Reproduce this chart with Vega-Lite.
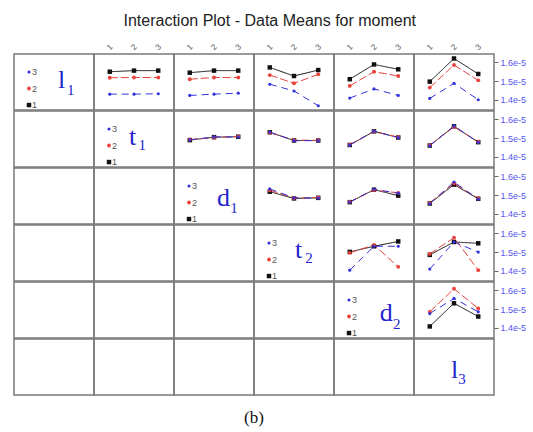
{
"$schema":"https://vega.github.io/schema/vega-lite/v6.json",
"title":{"text":"Interaction Plot - Data Means for moment","fontSize":16,"fontWeight":"normal","font":"Liberation Sans","color":"#222222","offset":13,"anchor":"middle"},
"padding":{"left":13,"top":12,"right":0,"bottom":0},
"autosize":{"type":"pad"},
"spacing":-2,
"config":{"view":{"stroke":"#7a7a7a","strokeWidth":1.5},"concat":{"spacing":0},"text":{"font":"Liberation Sans"}},
"datasets":{"m":[
{"p":"12","x":1,"g":1,"v":1.550e-5},{"p":"12","x":2,"g":1,"v":1.556e-5},{"p":"12","x":3,"g":1,"v":1.556e-5},
{"p":"12","x":1,"g":2,"v":1.518e-5},{"p":"12","x":2,"g":2,"v":1.519e-5},{"p":"12","x":3,"g":2,"v":1.519e-5},
{"p":"12","x":1,"g":3,"v":1.430e-5},{"p":"12","x":2,"g":3,"v":1.430e-5},{"p":"12","x":3,"g":3,"v":1.432e-5},
{"p":"13","x":1,"g":1,"v":1.545e-5},{"p":"13","x":2,"g":1,"v":1.556e-5},{"p":"13","x":3,"g":1,"v":1.556e-5},
{"p":"13","x":1,"g":2,"v":1.510e-5},{"p":"13","x":2,"g":2,"v":1.519e-5},{"p":"13","x":3,"g":2,"v":1.519e-5},
{"p":"13","x":1,"g":3,"v":1.423e-5},{"p":"13","x":2,"g":3,"v":1.430e-5},{"p":"13","x":3,"g":3,"v":1.435e-5},
{"p":"14","x":1,"g":1,"v":1.573e-5},{"p":"14","x":2,"g":1,"v":1.527e-5},{"p":"14","x":3,"g":1,"v":1.559e-5},
{"p":"14","x":1,"g":2,"v":1.532e-5},{"p":"14","x":2,"g":2,"v":1.488e-5},{"p":"14","x":3,"g":2,"v":1.536e-5},
{"p":"14","x":1,"g":3,"v":1.483e-5},{"p":"14","x":2,"g":3,"v":1.447e-5},{"p":"14","x":3,"g":3,"v":1.368e-5},
{"p":"15","x":1,"g":1,"v":1.510e-5},{"p":"15","x":2,"g":1,"v":1.589e-5},{"p":"15","x":3,"g":1,"v":1.563e-5},
{"p":"15","x":1,"g":2,"v":1.474e-5},{"p":"15","x":2,"g":2,"v":1.550e-5},{"p":"15","x":3,"g":2,"v":1.527e-5},
{"p":"15","x":1,"g":3,"v":1.409e-5},{"p":"15","x":2,"g":3,"v":1.458e-5},{"p":"15","x":3,"g":3,"v":1.423e-5},
{"p":"16","x":1,"g":1,"v":1.497e-5},{"p":"16","x":2,"g":1,"v":1.621e-5},{"p":"16","x":3,"g":1,"v":1.538e-5},
{"p":"16","x":1,"g":2,"v":1.465e-5},{"p":"16","x":2,"g":2,"v":1.586e-5},{"p":"16","x":3,"g":2,"v":1.504e-5},
{"p":"16","x":1,"g":3,"v":1.407e-5},{"p":"16","x":2,"g":3,"v":1.488e-5},{"p":"16","x":3,"g":3,"v":1.400e-5},
{"p":"23","x":1,"g":1,"v":1.489e-5},{"p":"23","x":2,"g":1,"v":1.505e-5},{"p":"23","x":3,"g":1,"v":1.507e-5},
{"p":"23","x":1,"g":2,"v":1.492e-5},{"p":"23","x":2,"g":2,"v":1.503e-5},{"p":"23","x":3,"g":2,"v":1.509e-5},
{"p":"23","x":1,"g":3,"v":1.490e-5},{"p":"23","x":2,"g":3,"v":1.506e-5},{"p":"23","x":3,"g":3,"v":1.506e-5},
{"p":"24","x":1,"g":1,"v":1.531e-5},{"p":"24","x":2,"g":1,"v":1.487e-5},{"p":"24","x":3,"g":1,"v":1.487e-5},
{"p":"24","x":1,"g":2,"v":1.529e-5},{"p":"24","x":2,"g":2,"v":1.489e-5},{"p":"24","x":3,"g":2,"v":1.488e-5},
{"p":"24","x":1,"g":3,"v":1.532e-5},{"p":"24","x":2,"g":3,"v":1.486e-5},{"p":"24","x":3,"g":3,"v":1.486e-5},
{"p":"25","x":1,"g":1,"v":1.463e-5},{"p":"25","x":2,"g":1,"v":1.536e-5},{"p":"25","x":3,"g":1,"v":1.503e-5},
{"p":"25","x":1,"g":2,"v":1.465e-5},{"p":"25","x":2,"g":2,"v":1.535e-5},{"p":"25","x":3,"g":2,"v":1.505e-5},
{"p":"25","x":1,"g":3,"v":1.462e-5},{"p":"25","x":2,"g":3,"v":1.537e-5},{"p":"25","x":3,"g":3,"v":1.502e-5},
{"p":"26","x":1,"g":1,"v":1.460e-5},{"p":"26","x":2,"g":1,"v":1.563e-5},{"p":"26","x":3,"g":1,"v":1.478e-5},
{"p":"26","x":1,"g":2,"v":1.462e-5},{"p":"26","x":2,"g":2,"v":1.560e-5},{"p":"26","x":3,"g":2,"v":1.480e-5},
{"p":"26","x":1,"g":3,"v":1.459e-5},{"p":"26","x":2,"g":3,"v":1.565e-5},{"p":"26","x":3,"g":3,"v":1.477e-5},
{"p":"34","x":1,"g":1,"v":1.518e-5},{"p":"34","x":2,"g":1,"v":1.482e-5},{"p":"34","x":3,"g":1,"v":1.485e-5},
{"p":"34","x":1,"g":2,"v":1.526e-5},{"p":"34","x":2,"g":2,"v":1.484e-5},{"p":"34","x":3,"g":2,"v":1.487e-5},
{"p":"34","x":1,"g":3,"v":1.533e-5},{"p":"34","x":2,"g":3,"v":1.485e-5},{"p":"34","x":3,"g":3,"v":1.484e-5},
{"p":"35","x":1,"g":1,"v":1.462e-5},{"p":"35","x":2,"g":1,"v":1.529e-5},{"p":"35","x":3,"g":1,"v":1.497e-5},
{"p":"35","x":1,"g":2,"v":1.464e-5},{"p":"35","x":2,"g":2,"v":1.527e-5},{"p":"35","x":3,"g":2,"v":1.512e-5},
{"p":"35","x":1,"g":3,"v":1.463e-5},{"p":"35","x":2,"g":3,"v":1.531e-5},{"p":"35","x":3,"g":3,"v":1.510e-5},
{"p":"36","x":1,"g":1,"v":1.455e-5},{"p":"36","x":2,"g":1,"v":1.556e-5},{"p":"36","x":3,"g":1,"v":1.480e-5},
{"p":"36","x":1,"g":2,"v":1.458e-5},{"p":"36","x":2,"g":2,"v":1.563e-5},{"p":"36","x":3,"g":2,"v":1.482e-5},
{"p":"36","x":1,"g":3,"v":1.454e-5},{"p":"36","x":2,"g":3,"v":1.570e-5},{"p":"36","x":3,"g":3,"v":1.478e-5},
{"p":"45","x":1,"g":1,"v":1.501e-5},{"p":"45","x":2,"g":1,"v":1.531e-5},{"p":"45","x":3,"g":1,"v":1.557e-5},
{"p":"45","x":1,"g":2,"v":1.496e-5},{"p":"45","x":2,"g":2,"v":1.538e-5},{"p":"45","x":3,"g":2,"v":1.421e-5},
{"p":"45","x":1,"g":3,"v":1.403e-5},{"p":"45","x":2,"g":3,"v":1.531e-5},{"p":"45","x":3,"g":3,"v":1.531e-5},
{"p":"46","x":1,"g":1,"v":1.485e-5},{"p":"46","x":2,"g":1,"v":1.554e-5},{"p":"46","x":3,"g":1,"v":1.547e-5},
{"p":"46","x":1,"g":2,"v":1.490e-5},{"p":"46","x":2,"g":2,"v":1.577e-5},{"p":"46","x":3,"g":2,"v":1.403e-5},
{"p":"46","x":1,"g":3,"v":1.409e-5},{"p":"46","x":2,"g":3,"v":1.554e-5},{"p":"46","x":3,"g":3,"v":1.500e-5},
{"p":"56","x":1,"g":1,"v":1.407e-5},{"p":"56","x":2,"g":1,"v":1.531e-5},{"p":"56","x":3,"g":1,"v":1.460e-5},
{"p":"56","x":1,"g":2,"v":1.485e-5},{"p":"56","x":2,"g":2,"v":1.609e-5},{"p":"56","x":3,"g":2,"v":1.503e-5},
{"p":"56","x":1,"g":3,"v":1.476e-5},{"p":"56","x":2,"g":3,"v":1.557e-5},{"p":"56","x":3,"g":3,"v":1.485e-5}
]},
"vconcat":[
{"spacing":0,"bounds":"flush","hconcat":[
 {"width":80,"height":56,"data":{"values":[{"g":3},{"g":2},{"g":1},{"s":"l","t":"1"}]},"encoding":{"x":{"datum":0.1875,"type":"quantitative","scale":{"domain":[0,1]},"axis":null}},"layer":[
  {"transform":[{"filter":"isValid(datum.g)"}],"mark":{"type":"point","filled":true,"opacity":1},"encoding":{"y":{"field":"g","type":"quantitative","scale":{"domain":[0.7,4.09],"zero":false,"nice":false},"axis":null},"color":{"field":"g","type":"nominal","scale":{"domain":[1,2,3],"range":["#111111","#e8423c","#3333dd"]},"legend":null},"shape":{"field":"g","type":"nominal","scale":{"domain":[1,2,3],"range":["square","circle","circle"]},"legend":null},"size":{"field":"g","type":"ordinal","scale":{"domain":[1,2,3],"range":[20,10,10]},"legend":null}}},
  {"transform":[{"filter":"isValid(datum.g)"}],"mark":{"type":"text","align":"left","baseline":"middle","dx":3,"fontSize":9,"color":"#555555"},"encoding":{"y":{"field":"g","type":"quantitative"},"text":{"field":"g"}}},
  {"transform":[{"filter":"isValid(datum.s)"}],"mark":{"type":"text","font":"Liberation Serif","fontSize":26,"color":"#2424cc","align":"left","baseline":"alphabetic"},"encoding":{"text":{"field":"s"},"x":{"datum":0.55,"type":"quantitative"},"y":{"datum":2.032,"type":"quantitative"}}},
  {"transform":[{"filter":"isValid(datum.s)"}],"mark":{"type":"text","font":"Liberation Serif","fontSize":15,"color":"#2424cc","align":"left","baseline":"alphabetic"},"encoding":{"text":{"field":"t"},"x":{"datum":0.6625,"type":"quantitative"},"y":{"datum":1.608,"type":"quantitative"}}}]},
 {"width":80,"height":56,"data":{"name":"m"},"transform":[{"filter":"datum.p=='12'"}],"encoding":{"x":{"field":"x","type":"quantitative","scale":{"domain":[0.35,3.65]},"axis":{"orient":"top","values":[1,2,3],"format":"d","labelAngle":-45,"labelAlign":"center","labelBaseline":"middle","ticks":false,"domain":false,"grid":false,"labelColor":"#555555","labelFontSize":8,"labelPadding":7,"title":null}},"y":{"field":"v","type":"quantitative","scale":{"domain":[1.345e-5,1.645e-5],"zero":false,"nice":false},"axis":null},"color":{"field":"g","type":"nominal","scale":{"domain":[1,2,3],"range":["#111111","#e8423c","#3333dd"]},"legend":null}},"layer":[{"mark":{"type":"line","strokeWidth":1},"encoding":{"strokeDash":{"field":"g","type":"nominal","scale":{"domain":[1,2,3],"range":[[1,0],[8,3],[7,5]]},"legend":null}}},{"mark":{"type":"point","filled":true,"opacity":1},"encoding":{"shape":{"field":"g","type":"nominal","scale":{"domain":[1,2,3],"range":["square","circle","circle"]},"legend":null},"size":{"field":"g","type":"ordinal","scale":{"domain":[1,2,3],"range":[20,10,10]},"legend":null}}}]},
 {"width":80,"height":56,"data":{"name":"m"},"transform":[{"filter":"datum.p=='13'"}],"encoding":{"x":{"field":"x","type":"quantitative","scale":{"domain":[0.35,3.65]},"axis":{"orient":"top","values":[1,2,3],"format":"d","labelAngle":-45,"labelAlign":"center","labelBaseline":"middle","ticks":false,"domain":false,"grid":false,"labelColor":"#555555","labelFontSize":8,"labelPadding":7,"title":null}},"y":{"field":"v","type":"quantitative","scale":{"domain":[1.345e-5,1.645e-5],"zero":false,"nice":false},"axis":null},"color":{"field":"g","type":"nominal","scale":{"domain":[1,2,3],"range":["#111111","#e8423c","#3333dd"]},"legend":null}},"layer":[{"mark":{"type":"line","strokeWidth":1},"encoding":{"strokeDash":{"field":"g","type":"nominal","scale":{"domain":[1,2,3],"range":[[1,0],[8,3],[7,5]]},"legend":null}}},{"mark":{"type":"point","filled":true,"opacity":1},"encoding":{"shape":{"field":"g","type":"nominal","scale":{"domain":[1,2,3],"range":["square","circle","circle"]},"legend":null},"size":{"field":"g","type":"ordinal","scale":{"domain":[1,2,3],"range":[20,10,10]},"legend":null}}}]},
 {"width":80,"height":56,"data":{"name":"m"},"transform":[{"filter":"datum.p=='14'"}],"encoding":{"x":{"field":"x","type":"quantitative","scale":{"domain":[0.35,3.65]},"axis":{"orient":"top","values":[1,2,3],"format":"d","labelAngle":-45,"labelAlign":"center","labelBaseline":"middle","ticks":false,"domain":false,"grid":false,"labelColor":"#555555","labelFontSize":8,"labelPadding":7,"title":null}},"y":{"field":"v","type":"quantitative","scale":{"domain":[1.345e-5,1.645e-5],"zero":false,"nice":false},"axis":null},"color":{"field":"g","type":"nominal","scale":{"domain":[1,2,3],"range":["#111111","#e8423c","#3333dd"]},"legend":null}},"layer":[{"mark":{"type":"line","strokeWidth":1},"encoding":{"strokeDash":{"field":"g","type":"nominal","scale":{"domain":[1,2,3],"range":[[1,0],[8,3],[7,5]]},"legend":null}}},{"mark":{"type":"point","filled":true,"opacity":1},"encoding":{"shape":{"field":"g","type":"nominal","scale":{"domain":[1,2,3],"range":["square","circle","circle"]},"legend":null},"size":{"field":"g","type":"ordinal","scale":{"domain":[1,2,3],"range":[20,10,10]},"legend":null}}}]},
 {"width":80,"height":56,"data":{"name":"m"},"transform":[{"filter":"datum.p=='15'"}],"encoding":{"x":{"field":"x","type":"quantitative","scale":{"domain":[0.35,3.65]},"axis":{"orient":"top","values":[1,2,3],"format":"d","labelAngle":-45,"labelAlign":"center","labelBaseline":"middle","ticks":false,"domain":false,"grid":false,"labelColor":"#555555","labelFontSize":8,"labelPadding":7,"title":null}},"y":{"field":"v","type":"quantitative","scale":{"domain":[1.345e-5,1.645e-5],"zero":false,"nice":false},"axis":null},"color":{"field":"g","type":"nominal","scale":{"domain":[1,2,3],"range":["#111111","#e8423c","#3333dd"]},"legend":null}},"layer":[{"mark":{"type":"line","strokeWidth":1},"encoding":{"strokeDash":{"field":"g","type":"nominal","scale":{"domain":[1,2,3],"range":[[1,0],[8,3],[7,5]]},"legend":null}}},{"mark":{"type":"point","filled":true,"opacity":1},"encoding":{"shape":{"field":"g","type":"nominal","scale":{"domain":[1,2,3],"range":["square","circle","circle"]},"legend":null},"size":{"field":"g","type":"ordinal","scale":{"domain":[1,2,3],"range":[20,10,10]},"legend":null}}}]},
 {"width":80,"height":56,"data":{"name":"m"},"transform":[{"filter":"datum.p=='16'"}],"encoding":{"x":{"field":"x","type":"quantitative","scale":{"domain":[0.35,3.65]},"axis":{"orient":"top","values":[1,2,3],"format":"d","labelAngle":-45,"labelAlign":"center","labelBaseline":"middle","ticks":false,"domain":false,"grid":false,"labelColor":"#555555","labelFontSize":8,"labelPadding":7,"title":null}},"y":{"field":"v","type":"quantitative","scale":{"domain":[1.345e-5,1.645e-5],"zero":false,"nice":false},"axis":{"orient":"right","values":[1.4e-5,1.5e-5,1.6e-5],"format":".1e","domain":false,"grid":false,"tickColor":"#666666","tickSize":4,"labelColor":"#5555ee","labelFont":"Liberation Sans","labelFontSize":9,"labelPadding":2,"title":null}},"color":{"field":"g","type":"nominal","scale":{"domain":[1,2,3],"range":["#111111","#e8423c","#3333dd"]},"legend":null}},"layer":[{"mark":{"type":"line","strokeWidth":1},"encoding":{"strokeDash":{"field":"g","type":"nominal","scale":{"domain":[1,2,3],"range":[[1,0],[8,3],[7,5]]},"legend":null}}},{"mark":{"type":"point","filled":true,"opacity":1},"encoding":{"shape":{"field":"g","type":"nominal","scale":{"domain":[1,2,3],"range":["square","circle","circle"]},"legend":null},"size":{"field":"g","type":"ordinal","scale":{"domain":[1,2,3],"range":[20,10,10]},"legend":null}}}]}
]},
{"spacing":0,"bounds":"flush","hconcat":[
 {"width":80,"height":56,"data":{"values":[{}]},"mark":{"type":"text"},"encoding":{"text":{"value":""},"x":{"datum":0.5,"type":"quantitative","scale":{"domain":[0,1]},"axis":null},"y":{"datum":0.5,"type":"quantitative","scale":{"domain":[0,1]},"axis":null}}},
 {"width":80,"height":56,"data":{"values":[{"g":3},{"g":2},{"g":1},{"s":"t","t":"1"}]},"encoding":{"x":{"datum":0.1875,"type":"quantitative","scale":{"domain":[0,1]},"axis":null}},"layer":[
  {"transform":[{"filter":"isValid(datum.g)"}],"mark":{"type":"point","filled":true,"opacity":1},"encoding":{"y":{"field":"g","type":"quantitative","scale":{"domain":[0.7,4.09],"zero":false,"nice":false},"axis":null},"color":{"field":"g","type":"nominal","scale":{"domain":[1,2,3],"range":["#111111","#e8423c","#3333dd"]},"legend":null},"shape":{"field":"g","type":"nominal","scale":{"domain":[1,2,3],"range":["square","circle","circle"]},"legend":null},"size":{"field":"g","type":"ordinal","scale":{"domain":[1,2,3],"range":[20,10,10]},"legend":null}}},
  {"transform":[{"filter":"isValid(datum.g)"}],"mark":{"type":"text","align":"left","baseline":"middle","dx":3,"fontSize":9,"color":"#555555"},"encoding":{"y":{"field":"g","type":"quantitative"},"text":{"field":"g"}}},
  {"transform":[{"filter":"isValid(datum.s)"}],"mark":{"type":"text","font":"Liberation Serif","fontSize":26,"color":"#2424cc","align":"left","baseline":"alphabetic"},"encoding":{"text":{"field":"s"},"x":{"datum":0.4375,"type":"quantitative"},"y":{"datum":2.049,"type":"quantitative"}}},
  {"transform":[{"filter":"isValid(datum.s)"}],"mark":{"type":"text","font":"Liberation Serif","fontSize":15,"color":"#2424cc","align":"left","baseline":"alphabetic"},"encoding":{"text":{"field":"t"},"x":{"datum":0.555,"type":"quantitative"},"y":{"datum":1.705,"type":"quantitative"}}}]},
 {"width":80,"height":56,"data":{"name":"m"},"transform":[{"filter":"datum.p=='23'"}],"encoding":{"x":{"field":"x","type":"quantitative","scale":{"domain":[0.35,3.65]},"axis":null},"y":{"field":"v","type":"quantitative","scale":{"domain":[1.345e-5,1.645e-5],"zero":false,"nice":false},"axis":null},"color":{"field":"g","type":"nominal","scale":{"domain":[1,2,3],"range":["#111111","#e8423c","#3333dd"]},"legend":null}},"layer":[{"mark":{"type":"line","strokeWidth":1},"encoding":{"strokeDash":{"field":"g","type":"nominal","scale":{"domain":[1,2,3],"range":[[1,0],[8,3],[7,5]]},"legend":null}}},{"mark":{"type":"point","filled":true,"opacity":1},"encoding":{"shape":{"field":"g","type":"nominal","scale":{"domain":[1,2,3],"range":["square","circle","circle"]},"legend":null},"size":{"field":"g","type":"ordinal","scale":{"domain":[1,2,3],"range":[20,10,10]},"legend":null}}}]},
 {"width":80,"height":56,"data":{"name":"m"},"transform":[{"filter":"datum.p=='24'"}],"encoding":{"x":{"field":"x","type":"quantitative","scale":{"domain":[0.35,3.65]},"axis":null},"y":{"field":"v","type":"quantitative","scale":{"domain":[1.345e-5,1.645e-5],"zero":false,"nice":false},"axis":null},"color":{"field":"g","type":"nominal","scale":{"domain":[1,2,3],"range":["#111111","#e8423c","#3333dd"]},"legend":null}},"layer":[{"mark":{"type":"line","strokeWidth":1},"encoding":{"strokeDash":{"field":"g","type":"nominal","scale":{"domain":[1,2,3],"range":[[1,0],[8,3],[7,5]]},"legend":null}}},{"mark":{"type":"point","filled":true,"opacity":1},"encoding":{"shape":{"field":"g","type":"nominal","scale":{"domain":[1,2,3],"range":["square","circle","circle"]},"legend":null},"size":{"field":"g","type":"ordinal","scale":{"domain":[1,2,3],"range":[20,10,10]},"legend":null}}}]},
 {"width":80,"height":56,"data":{"name":"m"},"transform":[{"filter":"datum.p=='25'"}],"encoding":{"x":{"field":"x","type":"quantitative","scale":{"domain":[0.35,3.65]},"axis":null},"y":{"field":"v","type":"quantitative","scale":{"domain":[1.345e-5,1.645e-5],"zero":false,"nice":false},"axis":null},"color":{"field":"g","type":"nominal","scale":{"domain":[1,2,3],"range":["#111111","#e8423c","#3333dd"]},"legend":null}},"layer":[{"mark":{"type":"line","strokeWidth":1},"encoding":{"strokeDash":{"field":"g","type":"nominal","scale":{"domain":[1,2,3],"range":[[1,0],[8,3],[7,5]]},"legend":null}}},{"mark":{"type":"point","filled":true,"opacity":1},"encoding":{"shape":{"field":"g","type":"nominal","scale":{"domain":[1,2,3],"range":["square","circle","circle"]},"legend":null},"size":{"field":"g","type":"ordinal","scale":{"domain":[1,2,3],"range":[20,10,10]},"legend":null}}}]},
 {"width":80,"height":56,"data":{"name":"m"},"transform":[{"filter":"datum.p=='26'"}],"encoding":{"x":{"field":"x","type":"quantitative","scale":{"domain":[0.35,3.65]},"axis":null},"y":{"field":"v","type":"quantitative","scale":{"domain":[1.345e-5,1.645e-5],"zero":false,"nice":false},"axis":{"orient":"right","values":[1.4e-5,1.5e-5,1.6e-5],"format":".1e","domain":false,"grid":false,"tickColor":"#666666","tickSize":4,"labelColor":"#5555ee","labelFont":"Liberation Sans","labelFontSize":9,"labelPadding":2,"title":null}},"color":{"field":"g","type":"nominal","scale":{"domain":[1,2,3],"range":["#111111","#e8423c","#3333dd"]},"legend":null}},"layer":[{"mark":{"type":"line","strokeWidth":1},"encoding":{"strokeDash":{"field":"g","type":"nominal","scale":{"domain":[1,2,3],"range":[[1,0],[8,3],[7,5]]},"legend":null}}},{"mark":{"type":"point","filled":true,"opacity":1},"encoding":{"shape":{"field":"g","type":"nominal","scale":{"domain":[1,2,3],"range":["square","circle","circle"]},"legend":null},"size":{"field":"g","type":"ordinal","scale":{"domain":[1,2,3],"range":[20,10,10]},"legend":null}}}]}
]},
{"spacing":0,"bounds":"flush","hconcat":[
 {"width":80,"height":56,"data":{"values":[{}]},"mark":{"type":"text"},"encoding":{"text":{"value":""},"x":{"datum":0.5,"type":"quantitative","scale":{"domain":[0,1]},"axis":null},"y":{"datum":0.5,"type":"quantitative","scale":{"domain":[0,1]},"axis":null}}},
 {"width":80,"height":56,"data":{"values":[{}]},"mark":{"type":"text"},"encoding":{"text":{"value":""},"x":{"datum":0.5,"type":"quantitative","scale":{"domain":[0,1]},"axis":null},"y":{"datum":0.5,"type":"quantitative","scale":{"domain":[0,1]},"axis":null}}},
 {"width":80,"height":56,"data":{"values":[{"g":3},{"g":2},{"g":1},{"s":"d","t":"1"}]},"encoding":{"x":{"datum":0.1875,"type":"quantitative","scale":{"domain":[0,1]},"axis":null}},"layer":[
  {"transform":[{"filter":"isValid(datum.g)"}],"mark":{"type":"point","filled":true,"opacity":1},"encoding":{"y":{"field":"g","type":"quantitative","scale":{"domain":[0.7,4.09],"zero":false,"nice":false},"axis":null},"color":{"field":"g","type":"nominal","scale":{"domain":[1,2,3],"range":["#111111","#e8423c","#3333dd"]},"legend":null},"shape":{"field":"g","type":"nominal","scale":{"domain":[1,2,3],"range":["square","circle","circle"]},"legend":null},"size":{"field":"g","type":"ordinal","scale":{"domain":[1,2,3],"range":[20,10,10]},"legend":null}}},
  {"transform":[{"filter":"isValid(datum.g)"}],"mark":{"type":"text","align":"left","baseline":"middle","dx":3,"fontSize":9,"color":"#555555"},"encoding":{"y":{"field":"g","type":"quantitative"},"text":{"field":"g"}}},
  {"transform":[{"filter":"isValid(datum.s)"}],"mark":{"type":"text","font":"Liberation Serif","fontSize":26,"color":"#2424cc","align":"left","baseline":"alphabetic"},"encoding":{"text":{"field":"s"},"x":{"datum":0.5375,"type":"quantitative"},"y":{"datum":1.79,"type":"quantitative"}}},
  {"transform":[{"filter":"isValid(datum.s)"}],"mark":{"type":"text","font":"Liberation Serif","fontSize":15,"color":"#2424cc","align":"left","baseline":"alphabetic"},"encoding":{"text":{"field":"t"},"x":{"datum":0.704,"type":"quantitative"},"y":{"datum":1.39,"type":"quantitative"}}}]},
 {"width":80,"height":56,"data":{"name":"m"},"transform":[{"filter":"datum.p=='34'"}],"encoding":{"x":{"field":"x","type":"quantitative","scale":{"domain":[0.35,3.65]},"axis":null},"y":{"field":"v","type":"quantitative","scale":{"domain":[1.345e-5,1.645e-5],"zero":false,"nice":false},"axis":null},"color":{"field":"g","type":"nominal","scale":{"domain":[1,2,3],"range":["#111111","#e8423c","#3333dd"]},"legend":null}},"layer":[{"mark":{"type":"line","strokeWidth":1},"encoding":{"strokeDash":{"field":"g","type":"nominal","scale":{"domain":[1,2,3],"range":[[1,0],[8,3],[7,5]]},"legend":null}}},{"mark":{"type":"point","filled":true,"opacity":1},"encoding":{"shape":{"field":"g","type":"nominal","scale":{"domain":[1,2,3],"range":["square","circle","circle"]},"legend":null},"size":{"field":"g","type":"ordinal","scale":{"domain":[1,2,3],"range":[20,10,10]},"legend":null}}}]},
 {"width":80,"height":56,"data":{"name":"m"},"transform":[{"filter":"datum.p=='35'"}],"encoding":{"x":{"field":"x","type":"quantitative","scale":{"domain":[0.35,3.65]},"axis":null},"y":{"field":"v","type":"quantitative","scale":{"domain":[1.345e-5,1.645e-5],"zero":false,"nice":false},"axis":null},"color":{"field":"g","type":"nominal","scale":{"domain":[1,2,3],"range":["#111111","#e8423c","#3333dd"]},"legend":null}},"layer":[{"mark":{"type":"line","strokeWidth":1},"encoding":{"strokeDash":{"field":"g","type":"nominal","scale":{"domain":[1,2,3],"range":[[1,0],[8,3],[7,5]]},"legend":null}}},{"mark":{"type":"point","filled":true,"opacity":1},"encoding":{"shape":{"field":"g","type":"nominal","scale":{"domain":[1,2,3],"range":["square","circle","circle"]},"legend":null},"size":{"field":"g","type":"ordinal","scale":{"domain":[1,2,3],"range":[20,10,10]},"legend":null}}}]},
 {"width":80,"height":56,"data":{"name":"m"},"transform":[{"filter":"datum.p=='36'"}],"encoding":{"x":{"field":"x","type":"quantitative","scale":{"domain":[0.35,3.65]},"axis":null},"y":{"field":"v","type":"quantitative","scale":{"domain":[1.345e-5,1.645e-5],"zero":false,"nice":false},"axis":{"orient":"right","values":[1.4e-5,1.5e-5,1.6e-5],"format":".1e","domain":false,"grid":false,"tickColor":"#666666","tickSize":4,"labelColor":"#5555ee","labelFont":"Liberation Sans","labelFontSize":9,"labelPadding":2,"title":null}},"color":{"field":"g","type":"nominal","scale":{"domain":[1,2,3],"range":["#111111","#e8423c","#3333dd"]},"legend":null}},"layer":[{"mark":{"type":"line","strokeWidth":1},"encoding":{"strokeDash":{"field":"g","type":"nominal","scale":{"domain":[1,2,3],"range":[[1,0],[8,3],[7,5]]},"legend":null}}},{"mark":{"type":"point","filled":true,"opacity":1},"encoding":{"shape":{"field":"g","type":"nominal","scale":{"domain":[1,2,3],"range":["square","circle","circle"]},"legend":null},"size":{"field":"g","type":"ordinal","scale":{"domain":[1,2,3],"range":[20,10,10]},"legend":null}}}]}
]},
{"spacing":0,"bounds":"flush","hconcat":[
 {"width":80,"height":56,"data":{"values":[{}]},"mark":{"type":"text"},"encoding":{"text":{"value":""},"x":{"datum":0.5,"type":"quantitative","scale":{"domain":[0,1]},"axis":null},"y":{"datum":0.5,"type":"quantitative","scale":{"domain":[0,1]},"axis":null}}},
 {"width":80,"height":56,"data":{"values":[{}]},"mark":{"type":"text"},"encoding":{"text":{"value":""},"x":{"datum":0.5,"type":"quantitative","scale":{"domain":[0,1]},"axis":null},"y":{"datum":0.5,"type":"quantitative","scale":{"domain":[0,1]},"axis":null}}},
 {"width":80,"height":56,"data":{"values":[{}]},"mark":{"type":"text"},"encoding":{"text":{"value":""},"x":{"datum":0.5,"type":"quantitative","scale":{"domain":[0,1]},"axis":null},"y":{"datum":0.5,"type":"quantitative","scale":{"domain":[0,1]},"axis":null}}},
 {"width":80,"height":56,"data":{"values":[{"g":3},{"g":2},{"g":1},{"s":"t","t":"2"}]},"encoding":{"x":{"datum":0.1875,"type":"quantitative","scale":{"domain":[0,1]},"axis":null}},"layer":[
  {"transform":[{"filter":"isValid(datum.g)"}],"mark":{"type":"point","filled":true,"opacity":1},"encoding":{"y":{"field":"g","type":"quantitative","scale":{"domain":[0.7,4.09],"zero":false,"nice":false},"axis":null},"color":{"field":"g","type":"nominal","scale":{"domain":[1,2,3],"range":["#111111","#e8423c","#3333dd"]},"legend":null},"shape":{"field":"g","type":"nominal","scale":{"domain":[1,2,3],"range":["square","circle","circle"]},"legend":null},"size":{"field":"g","type":"ordinal","scale":{"domain":[1,2,3],"range":[20,10,10]},"legend":null}}},
  {"transform":[{"filter":"isValid(datum.g)"}],"mark":{"type":"text","align":"left","baseline":"middle","dx":3,"fontSize":9,"color":"#555555"},"encoding":{"y":{"field":"g","type":"quantitative"},"text":{"field":"g"}}},
  {"transform":[{"filter":"isValid(datum.s)"}],"mark":{"type":"text","font":"Liberation Serif","fontSize":26,"color":"#2424cc","align":"left","baseline":"alphabetic"},"encoding":{"text":{"field":"s"},"x":{"datum":0.5125,"type":"quantitative"},"y":{"datum":2.092,"type":"quantitative"}}},
  {"transform":[{"filter":"isValid(datum.s)"}],"mark":{"type":"text","font":"Liberation Serif","fontSize":15,"color":"#2424cc","align":"left","baseline":"alphabetic"},"encoding":{"text":{"field":"t"},"x":{"datum":0.64,"type":"quantitative"},"y":{"datum":1.79,"type":"quantitative"}}}]},
 {"width":80,"height":56,"data":{"name":"m"},"transform":[{"filter":"datum.p=='45'"}],"encoding":{"x":{"field":"x","type":"quantitative","scale":{"domain":[0.35,3.65]},"axis":null},"y":{"field":"v","type":"quantitative","scale":{"domain":[1.345e-5,1.645e-5],"zero":false,"nice":false},"axis":null},"color":{"field":"g","type":"nominal","scale":{"domain":[1,2,3],"range":["#111111","#e8423c","#3333dd"]},"legend":null}},"layer":[{"mark":{"type":"line","strokeWidth":1},"encoding":{"strokeDash":{"field":"g","type":"nominal","scale":{"domain":[1,2,3],"range":[[1,0],[8,3],[7,5]]},"legend":null}}},{"mark":{"type":"point","filled":true,"opacity":1},"encoding":{"shape":{"field":"g","type":"nominal","scale":{"domain":[1,2,3],"range":["square","circle","circle"]},"legend":null},"size":{"field":"g","type":"ordinal","scale":{"domain":[1,2,3],"range":[20,10,10]},"legend":null}}}]},
 {"width":80,"height":56,"data":{"name":"m"},"transform":[{"filter":"datum.p=='46'"}],"encoding":{"x":{"field":"x","type":"quantitative","scale":{"domain":[0.35,3.65]},"axis":null},"y":{"field":"v","type":"quantitative","scale":{"domain":[1.345e-5,1.645e-5],"zero":false,"nice":false},"axis":{"orient":"right","values":[1.4e-5,1.5e-5,1.6e-5],"format":".1e","domain":false,"grid":false,"tickColor":"#666666","tickSize":4,"labelColor":"#5555ee","labelFont":"Liberation Sans","labelFontSize":9,"labelPadding":2,"title":null}},"color":{"field":"g","type":"nominal","scale":{"domain":[1,2,3],"range":["#111111","#e8423c","#3333dd"]},"legend":null}},"layer":[{"mark":{"type":"line","strokeWidth":1},"encoding":{"strokeDash":{"field":"g","type":"nominal","scale":{"domain":[1,2,3],"range":[[1,0],[8,3],[7,5]]},"legend":null}}},{"mark":{"type":"point","filled":true,"opacity":1},"encoding":{"shape":{"field":"g","type":"nominal","scale":{"domain":[1,2,3],"range":["square","circle","circle"]},"legend":null},"size":{"field":"g","type":"ordinal","scale":{"domain":[1,2,3],"range":[20,10,10]},"legend":null}}}]}
]},
{"spacing":0,"bounds":"flush","hconcat":[
 {"width":80,"height":56,"data":{"values":[{}]},"mark":{"type":"text"},"encoding":{"text":{"value":""},"x":{"datum":0.5,"type":"quantitative","scale":{"domain":[0,1]},"axis":null},"y":{"datum":0.5,"type":"quantitative","scale":{"domain":[0,1]},"axis":null}}},
 {"width":80,"height":56,"data":{"values":[{}]},"mark":{"type":"text"},"encoding":{"text":{"value":""},"x":{"datum":0.5,"type":"quantitative","scale":{"domain":[0,1]},"axis":null},"y":{"datum":0.5,"type":"quantitative","scale":{"domain":[0,1]},"axis":null}}},
 {"width":80,"height":56,"data":{"values":[{}]},"mark":{"type":"text"},"encoding":{"text":{"value":""},"x":{"datum":0.5,"type":"quantitative","scale":{"domain":[0,1]},"axis":null},"y":{"datum":0.5,"type":"quantitative","scale":{"domain":[0,1]},"axis":null}}},
 {"width":80,"height":56,"data":{"values":[{}]},"mark":{"type":"text"},"encoding":{"text":{"value":""},"x":{"datum":0.5,"type":"quantitative","scale":{"domain":[0,1]},"axis":null},"y":{"datum":0.5,"type":"quantitative","scale":{"domain":[0,1]},"axis":null}}},
 {"width":80,"height":56,"data":{"values":[{"g":3},{"g":2},{"g":1},{"s":"d","t":"2"}]},"encoding":{"x":{"datum":0.1875,"type":"quantitative","scale":{"domain":[0,1]},"axis":null}},"layer":[
  {"transform":[{"filter":"isValid(datum.g)"}],"mark":{"type":"point","filled":true,"opacity":1},"encoding":{"y":{"field":"g","type":"quantitative","scale":{"domain":[0.7,4.09],"zero":false,"nice":false},"axis":null},"color":{"field":"g","type":"nominal","scale":{"domain":[1,2,3],"range":["#111111","#e8423c","#3333dd"]},"legend":null},"shape":{"field":"g","type":"nominal","scale":{"domain":[1,2,3],"range":["square","circle","circle"]},"legend":null},"size":{"field":"g","type":"ordinal","scale":{"domain":[1,2,3],"range":[20,10,10]},"legend":null}}},
  {"transform":[{"filter":"isValid(datum.g)"}],"mark":{"type":"text","align":"left","baseline":"middle","dx":3,"fontSize":9,"color":"#555555"},"encoding":{"y":{"field":"g","type":"quantitative"},"text":{"field":"g"}}},
  {"transform":[{"filter":"isValid(datum.s)"}],"mark":{"type":"text","font":"Liberation Serif","fontSize":26,"color":"#2424cc","align":"left","baseline":"alphabetic"},"encoding":{"text":{"field":"s"},"x":{"datum":0.571,"type":"quantitative"},"y":{"datum":1.747,"type":"quantitative"}}},
  {"transform":[{"filter":"isValid(datum.s)"}],"mark":{"type":"text","font":"Liberation Serif","fontSize":15,"color":"#2424cc","align":"left","baseline":"alphabetic"},"encoding":{"text":{"field":"t"},"x":{"datum":0.7375,"type":"quantitative"},"y":{"datum":1.245,"type":"quantitative"}}}]},
 {"width":80,"height":56,"data":{"name":"m"},"transform":[{"filter":"datum.p=='56'"}],"encoding":{"x":{"field":"x","type":"quantitative","scale":{"domain":[0.35,3.65]},"axis":null},"y":{"field":"v","type":"quantitative","scale":{"domain":[1.345e-5,1.645e-5],"zero":false,"nice":false},"axis":{"orient":"right","values":[1.4e-5,1.5e-5,1.6e-5],"format":".1e","domain":false,"grid":false,"tickColor":"#666666","tickSize":4,"labelColor":"#5555ee","labelFont":"Liberation Sans","labelFontSize":9,"labelPadding":2,"title":null}},"color":{"field":"g","type":"nominal","scale":{"domain":[1,2,3],"range":["#111111","#e8423c","#3333dd"]},"legend":null}},"layer":[{"mark":{"type":"line","strokeWidth":1},"encoding":{"strokeDash":{"field":"g","type":"nominal","scale":{"domain":[1,2,3],"range":[[1,0],[8,3],[7,5]]},"legend":null}}},{"mark":{"type":"point","filled":true,"opacity":1},"encoding":{"shape":{"field":"g","type":"nominal","scale":{"domain":[1,2,3],"range":["square","circle","circle"]},"legend":null},"size":{"field":"g","type":"ordinal","scale":{"domain":[1,2,3],"range":[20,10,10]},"legend":null}}}]}
]},
{"spacing":0,"bounds":"flush","hconcat":[
 {"width":80,"height":56,"data":{"values":[{}]},"mark":{"type":"text"},"encoding":{"text":{"value":""},"x":{"datum":0.5,"type":"quantitative","scale":{"domain":[0,1]},"axis":null},"y":{"datum":0.5,"type":"quantitative","scale":{"domain":[0,1]},"axis":null}}},
 {"width":80,"height":56,"data":{"values":[{}]},"mark":{"type":"text"},"encoding":{"text":{"value":""},"x":{"datum":0.5,"type":"quantitative","scale":{"domain":[0,1]},"axis":null},"y":{"datum":0.5,"type":"quantitative","scale":{"domain":[0,1]},"axis":null}}},
 {"width":80,"height":56,"data":{"values":[{}]},"mark":{"type":"text"},"encoding":{"text":{"value":""},"x":{"datum":0.5,"type":"quantitative","scale":{"domain":[0,1]},"axis":null},"y":{"datum":0.5,"type":"quantitative","scale":{"domain":[0,1]},"axis":null}}},
 {"width":80,"height":56,"data":{"values":[{}]},"mark":{"type":"text"},"encoding":{"text":{"value":""},"x":{"datum":0.5,"type":"quantitative","scale":{"domain":[0,1]},"axis":null},"y":{"datum":0.5,"type":"quantitative","scale":{"domain":[0,1]},"axis":null}}},
 {"width":80,"height":56,"data":{"values":[{}]},"mark":{"type":"text"},"encoding":{"text":{"value":""},"x":{"datum":0.5,"type":"quantitative","scale":{"domain":[0,1]},"axis":null},"y":{"datum":0.5,"type":"quantitative","scale":{"domain":[0,1]},"axis":null}}},
 {"width":80,"height":56,"data":{"values":[{"s":"l","t":"3"}]},"encoding":{"x":{"datum":0.4625,"type":"quantitative","scale":{"domain":[0,1]},"axis":null},"y":{"datum":1.711,"type":"quantitative","scale":{"domain":[0.7,4.09],"zero":false,"nice":false},"axis":null}},"layer":[
  {"mark":{"type":"text","font":"Liberation Serif","fontSize":26,"color":"#2424cc","align":"left","baseline":"alphabetic"},"encoding":{"text":{"field":"s"}}},
  {"mark":{"type":"text","font":"Liberation Serif","fontSize":15,"color":"#2424cc","align":"left","baseline":"alphabetic"},"encoding":{"text":{"field":"t"},"x":{"datum":0.554,"type":"quantitative"},"y":{"datum":1.348,"type":"quantitative"}}}]}
]},
{"width":480,"height":44,"view":{"stroke":null},"data":{"values":[{"t":"(b)"}]},"mark":{"type":"text","font":"Liberation Serif","fontSize":17,"color":"#111111","baseline":"middle","align":"center"},"encoding":{"text":{"field":"t"},"x":{"datum":0.5,"type":"quantitative","scale":{"domain":[0,1]},"axis":null},"y":{"datum":0.5,"type":"quantitative","scale":{"domain":[0,1]},"axis":null}}}
]
}
